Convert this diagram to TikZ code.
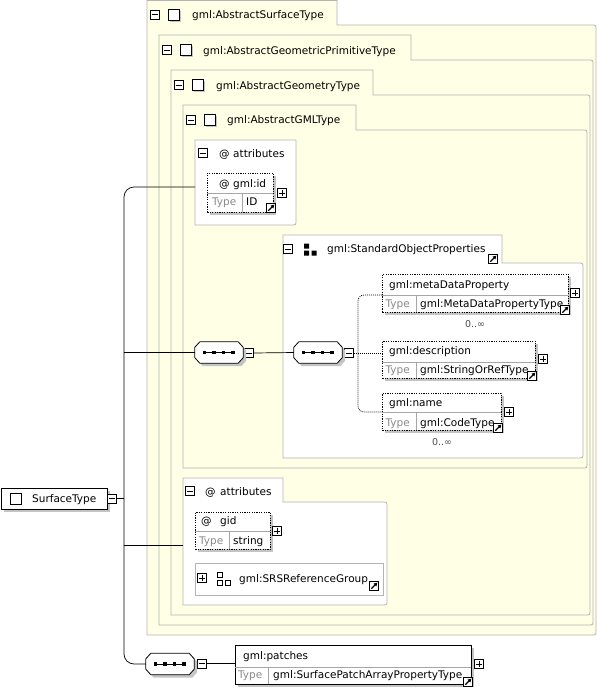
\documentclass[tikz,border=0pt]{standalone}
\usepackage{fontspec}
\setmainfont{DejaVu Sans}
\usetikzlibrary{shadows,arrows.meta}
\definecolor{ylw}{HTML}{FFFFE6}
\definecolor{bgray}{HTML}{B4B4B4}
\definecolor{shd}{HTML}{C4C4C4}
\definecolor{tgray}{HTML}{8A8A8A}
\newcommand\xtabbox[7][]{%
  \draw[#1] (#2,#7) -- (#2,#3) -- (#4,#3) -- (#4,#5) -- ({#6-5},#5) .. controls (#6,#5) .. (#6,{#5+5})
    -- (#6,{#7-5}) .. controls (#6,#7) .. ({#6-5},#7) -- cycle;}
\begin{document}
\begin{tikzpicture}[x=1pt,y=-1pt, font=\fontsize{10.5}{12}\selectfont,
  txt/.style={anchor=base west, inner sep=0pt},
  typetxt/.style={txt, text=tgray},
  occ/.style={anchor=base, inner sep=0pt, font=\fontsize{9.5}{11}\selectfont, text=black!70},
  minusbox/.style={draw, fill=white, minimum size=9pt, inner sep=0pt, line width=0.7pt,
    path picture={\draw[line width=0.8pt] ([xshift=1.8pt]path picture bounding box.west) -- ([xshift=-1.8pt]path picture bounding box.east);}},
  plusbox/.style={minusbox,
    path picture={\draw[line width=0.8pt] ([xshift=1.8pt]path picture bounding box.west) -- ([xshift=-1.8pt]path picture bounding box.east)
       ([yshift=1.8pt]path picture bounding box.south) -- ([yshift=-1.8pt]path picture bounding box.north);}},
  linkbox/.style={draw, fill=white, minimum size=9pt, inner sep=0pt, line width=0.8pt,
    path picture={\draw[line width=1.3pt, -{Triangle[length=3.4pt,width=3.8pt]}] ([shift={(1.8pt,1.8pt)}]path picture bounding box.south west) -- ([shift={(-1.2pt,-1.2pt)}]path picture bounding box.north east);}},
  plainsq/.style={draw, fill=white, minimum size=11pt, inner sep=0pt, line width=0.8pt},
  typesq/.style={plainsq, drop shadow={shadow xshift=1.5pt, shadow yshift=-1.5pt, fill=shd, opacity=1}},
  yellowbox/.style={draw=bgray, fill=ylw, line width=0.8pt},
  whitebox/.style={draw=bgray, fill=white, line width=0.8pt},
  elem/.style={draw, fill=white, anchor=north west, inner sep=0pt, line width=0.7pt,
    drop shadow={shadow xshift=3pt, shadow yshift=-3pt, fill=shd, opacity=1}},
  optelem/.style={elem, dash pattern=on 1.2pt off 1.2pt},
  sepline/.style={draw=black!35, line width=0.6pt},
  seq/.style={minimum width=48pt, minimum height=21pt, inner sep=0pt},
  octo/.style={draw, fill=white, line width=0.8pt,
    drop shadow={shadow xshift=3pt, shadow yshift=-3pt, fill=shd, opacity=1}},
  conn/.style={draw, line width=0.7pt},
  dotconn/.style={conn, dash pattern=on 1pt off 1pt}
]
\fill[white] (0,0) rectangle (597,689);
\useasboundingbox (0,0) rectangle (597,689);

% nested type boxes
\xtabbox[yellowbox]{147}{0.5}{337}{25}{596}{635}
\xtabbox[yellowbox]{159}{35}{411}{60}{593}{625}
\xtabbox[yellowbox]{171}{70}{373}{95}{590}{615}
\xtabbox[yellowbox]{183}{105}{356}{130}{587}{468}

\node[minusbox] (m-ast) at (155,14.5) {};
\node[typesq] (q-ast) at (174,14.5) {};
\node[txt] (t-ast) at (192,18.5) {gml:AbstractSurfaceType};
\node[minusbox] (m-agp) at (167,50) {};
\node[typesq] (q-agp) at (186,50) {};
\node[txt] (t-agp) at (203,54) {gml:AbstractGeometricPrimitiveType};
\node[minusbox] (m-agt) at (179,85) {};
\node[typesq] (q-agt) at (198,85) {};
\node[txt] (t-agt) at (216,89) {gml:AbstractGeometryType};
\node[minusbox] (m-gml) at (191,120) {};
\node[typesq] (q-gml) at (210,120) {};
\node[txt] (t-gml) at (227,123.5) {gml:AbstractGMLType};

% attributes 1
\draw[whitebox] (195,140) -- (296,140) -- (296,220) .. controls (296,225) .. (291,225) -- (195,225) -- cycle;
\node[minusbox] (m-at1) at (203,153) {};
\node[txt] (at1-at) at (219,157) {@};
\node[txt] (at1-t) at (233,157) {attributes};
\node[optelem, minimum width=66pt, minimum height=39pt] (gmlid) at (207,173) {};
\draw[sepline] (207,193) -- (273,193) (242,193) -- (242,212);
\node[txt] (gmlid-at) at (219,187) {@};
\node[txt] (gmlid-n) at (233,187) {gml:id};
\node[typetxt] (gmlid-ty) at (212,205.5) {Type};
\node[txt] (gmlid-v) at (246,205.5) {ID};
\node[plusbox] (gmlid-p) at (282,193) {};
\node[linkbox] (gmlid-l) at (271,208) {};

% standard object properties
\xtabbox[whitebox]{283}{235}{502}{263}{583}{458}
\node[minusbox] (m-sop) at (288,249) {};
\fill (304,243.5) rectangle (309,248.5) (304,250.5) rectangle (309,255.5) (311.5,250.5) rectangle (316.5,255.5);
\node[txt] (sop-t) at (327,252.7) {gml:StandardObjectProperties};
\node[linkbox] (sop-l) at (493,259) {};

\node[optelem, minimum width=186pt, minimum height=38pt] (mdp) at (382,274) {};
\draw[sepline] (382,295) -- (568,295) (416,295) -- (416,312);
\node[txt] (mdp-n) at (389,288) {gml:metaDataProperty};
\node[typetxt] (mdp-ty) at (385.5,307) {Type};
\node[txt] (mdp-v) at (420,307) {gml:MetaDataPropertyType};
\node[plusbox] (mdp-p) at (575,293) {};
\node[linkbox] (mdp-l) at (565,310) {};
\node[occ] (mdp-o) at (475,327) {0..∞};

\node[optelem, minimum width=153pt, minimum height=37pt] (desc) at (382,341) {};
\draw[sepline] (382,362) -- (535,362) (416,362) -- (416,378);
\node[txt] (desc-n) at (389,354.5) {gml:description};
\node[typetxt] (desc-ty) at (385.5,373.5) {Type};
\node[txt] (desc-v) at (420,373.5) {gml:StringOrRefType};
\node[plusbox] (desc-p) at (543,359) {};
\node[linkbox] (desc-l) at (532,376) {};

\node[optelem, minimum width=119pt, minimum height=37pt] (name) at (382,393) {};
\draw[sepline] (382,412) -- (501,412) (416,412) -- (416,430);
\node[txt] (name-n) at (389,406.5) {gml:name};
\node[typetxt] (name-ty) at (385.5,426) {Type};
\node[txt] (name-v) at (420,426) {gml:CodeType};
\node[plusbox] (name-p) at (509,412) {};
\node[linkbox] (name-l) at (498,428) {};
\node[occ] (name-o) at (442,445) {0..∞};

% attributes 2
\xtabbox[whitebox]{183}{478}{283}{502}{387}{605}
\node[minusbox] (m-at2) at (190,491) {};
\node[txt] (at2-at) at (205,495) {@};
\node[txt] (at2-t) at (220,495) {attributes};
\node[optelem, minimum width=75pt, minimum height=37pt] (gid) at (195,512) {};
\draw[sepline] (195,531) -- (270,531) (229,531) -- (229,549);
\node[txt] (gid-at) at (201,524.5) {@};
\node[txt] (gid-n) at (220,524.5) {gid};
\node[typetxt] (gid-ty) at (199,544) {Type};
\node[txt] (gid-v) at (233,544) {string};
\node[plusbox] (gid-p) at (277,531) {};

\node[draw=bgray, fill=white, line width=0.8pt, anchor=north west, minimum width=188pt, minimum height=32pt, inner sep=0pt] (srs) at (195,563) {};
\node[plusbox] (srs-p) at (202,578) {};
\draw[line width=0.7pt] (217.5,572) rectangle (222.5,577) (217.5,580) rectangle (222.5,585) (225,580) rectangle (230,585);
\node[txt] (srs-t) at (239,582) {gml:SRSReferenceGroup};
\node[linkbox] (srs-l) at (374,586) {};

% SurfaceType
\node[elem, minimum width=106pt, minimum height=21pt] (st) at (1,488) {};
\node[plainsq] (st-q) at (15.5,498.5) {};
\node[txt] (st-t) at (32,502) {SurfaceType};
\node[minusbox] (st-m) at (112,498.5) {};

% sequences
\node[seq] (seq1) at (219,352.5) {};
\node[minusbox] (seq1-m) at (249,353) {};
\node[seq] (seq2) at (318,352.5) {};
\node[minusbox] (seq2-m) at (349,353) {};
\node[seq] (seq3) at (170,664) {};
\node[minusbox] (seq3-m) at (202,663.5) {};
\foreach \s in {seq1,seq2,seq3}{
  \path[octo] ([xshift=5pt]\s.north west) -- ([xshift=-5pt]\s.north east) -- ([yshift=-5.5pt]\s.north east)
     -- ([yshift=5.5pt]\s.south east) -- ([xshift=-5pt]\s.south east) -- ([xshift=5pt]\s.south west)
     -- ([yshift=5.5pt]\s.south west) -- ([yshift=-5.5pt]\s.north west) -- cycle;
  \draw[line width=0.8pt] ([xshift=-14.5pt]\s.center) -- ([xshift=14.5pt]\s.center);
  \foreach \dx in {-14.5,-5,4.5,14}{
    \fill ([shift={(\dx pt-1.8pt,-1.6pt)}]\s.center) rectangle ++(3.6pt,3.2pt);
  }
}

% patches
\node[elem, minimum width=236pt, minimum height=39pt] (patches) at (235,645) {};
\draw[sepline] (235,667) -- (471,667) (268,667) -- (268,684);
\node[txt] (patches-n) at (243,659) {gml:patches};
\node[typetxt] (patches-ty) at (238,678) {Type};
\node[txt] (patches-v) at (273,678) {gml:SurfacePatchArrayPropertyType};
\node[plusbox] (patches-p) at (479,664) {};
\node[linkbox] (patches-l) at (468,682) {};

% connectors
\coordinate (spine) at (124,498.5);
\coordinate (a1in) at (195,187);
\coordinate (a2in) at (183,545);
\coordinate (mdpin) at (382,295);
\coordinate (descin) at (382,353);
\coordinate (namein) at (382,412);
\coordinate (fork) at (358,353);
\draw[conn, rounded corners=10pt] (a1in) -| (spine) |- (seq3.west);
\draw[conn] (st-m.east) -- (spine);
\draw[conn] (seq1.west -| spine) -- (seq1.west);
\draw[conn] (a2in -| spine) -- (a2in);
\draw[conn] (seq1-m.east) -- (seq2.west);
\draw[conn] (seq3-m.east) -- (seq3-m.east -| patches.west);
\draw[dotconn] (seq2-m.east) -- (descin);
\draw[dotconn, rounded corners=6pt] (mdpin) -| (fork) |- (namein);
\end{tikzpicture}
\end{document}
